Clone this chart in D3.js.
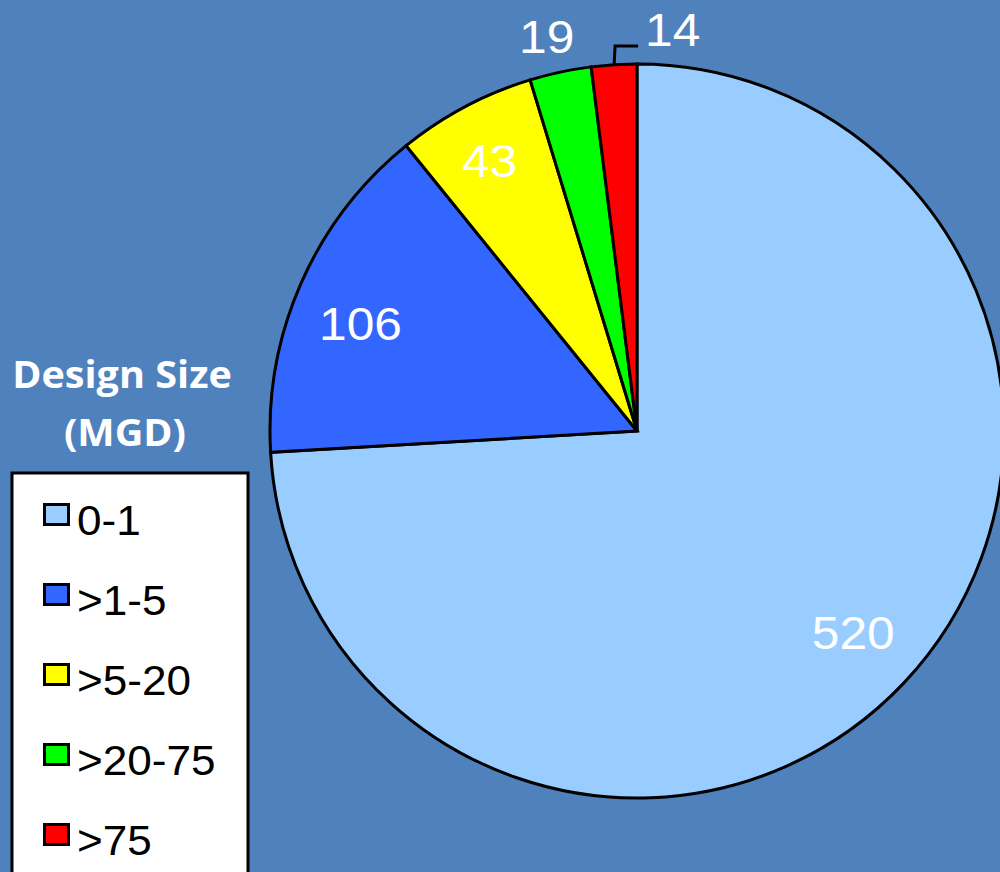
<!DOCTYPE html>
<html>
<head>
<meta charset="utf-8">
<script src="https://cdn.jsdelivr.net/npm/d3@7"></script>
<style>
  html, body { margin: 0; padding: 0; background: #4F81BD; }
  svg { display: block; }
</style>
</head>
<body>
<svg id="chart" width="1000" height="872"></svg>
<script>
// Plant counts by design size (million gallons per day)
const categories = ["0-1", ">1-5", ">5-20", ">20-75", ">75"];
const counts = [520, 106, 43, 19, 14];
const colors = ["#99CCFF", "#3366FF", "#FFFF00", "#00FF00", "#FF0000"];
const legendTitle = ["Design Size", "(MGD)"];

const svg = d3.select("#chart");
const W = 1000, H = 872;
const SX = 1.08; // slight horizontal widening of the type

svg.append("rect").attr("width", W).attr("height", H).attr("fill", "#4F81BD");

const cx = 637, cy = 431, R = 367;

const data = categories.map((c, i) => ({ cat: c, value: counts[i], color: colors[i] }));

const pie = d3.pie().value(d => d.value).sort(null);
const arcs = pie(data);
const arc = d3.arc().innerRadius(0).outerRadius(R);

const g = svg.append("g").attr("transform", `translate(${cx},${cy})`);

g.selectAll("path.slice")
  .data(arcs)
  .join("path")
  .attr("class", "slice")
  .attr("d", arc)
  .attr("fill", d => d.data.color)
  .attr("stroke", "#000")
  .attr("stroke-width", 3)
  .attr("stroke-linejoin", "miter");

// Value labels: radial distance as a fraction of the radius (small slices sit outside),
// plus a small pixel nudge
const labelRadius = [0.81, 0.806, 0.84, 1.10, null];
const labelNudge = [[0, -2], [-6, 13], [-3, 2], [-6, 1], [0, 0]];

arcs.forEach((a, i) => {
  if (labelRadius[i] == null) return;
  const mid = (a.startAngle + a.endAngle) / 2;
  const r = R * labelRadius[i];
  const x = Math.sin(mid) * r + labelNudge[i][0];
  const y = -Math.cos(mid) * r + labelNudge[i][1];
  g.append("text")
    .attr("transform", `translate(${x},${y}) scale(${SX},1)`)
    .attr("text-anchor", "middle")
    .attr("dominant-baseline", "central")
    .attr("font-family", "Liberation Sans, Arial, sans-serif")
    .attr("font-size", 46)
    .attr("fill", "#fff")
    .text(a.data.value);
});

// Leader line and label for the smallest slice
{
  const a = arcs[4];
  const mid = (a.startAngle + a.endAngle) / 2;
  const x0 = Math.sin(mid) * (R - 1), y0 = -Math.cos(mid) * (R - 1);
  const y1 = -R - 18;
  const x2 = x0 + 24;
  g.append("path")
    .attr("d", `M${x0},${y0}L${x0 + 1},${y1}L${x2},${y1}`)
    .attr("fill", "none")
    .attr("stroke", "#000")
    .attr("stroke-width", 3);
  g.append("text")
    .attr("transform", `translate(${x2 + 7},${y1 - 16}) scale(${SX},1)`)
    .attr("text-anchor", "start")
    .attr("dominant-baseline", "central")
    .attr("font-family", "Liberation Sans, Arial, sans-serif")
    .attr("font-size", 46)
    .attr("fill", "#fff")
    .text(a.data.value);
}

// Legend title
const titleY = [388, 446];
legendTitle.forEach((t, i) => {
  svg.append("text")
    .attr("transform", `translate(${i ? 125 : 122},${titleY[i]}) scale(1.07,1)`)
    .attr("text-anchor", "middle")
    .attr("font-family", "Open Sans, Lato, sans-serif")
    .attr("font-weight", "bold")
    .attr("font-size", 37)
    .attr("fill", "#fff")
    .text(t);
});

// Legend box
svg.append("rect")
  .attr("x", 12).attr("y", 473)
  .attr("width", 236).attr("height", 420)
  .attr("fill", "#fff")
  .attr("stroke", "#000")
  .attr("stroke-width", 3);

const legendY = d3.scaleBand().domain(categories).range([475, 875]);

const item = svg.selectAll("g.item")
  .data(data)
  .join("g")
  .attr("class", "item")
  .attr("transform", d => `translate(0,${legendY(d.cat)})`);

item.append("rect")
  .attr("x", 44.5).attr("y", 29.5)
  .attr("width", 24).attr("height", 20)
  .attr("fill", d => d.color)
  .attr("stroke", "#000")
  .attr("stroke-width", 3);

item.append("text")
  .attr("transform", `translate(77,60) scale(1.05,1)`)
  .attr("font-family", "Liberation Sans, Arial, sans-serif")
  .attr("font-size", 42)
  .attr("fill", "#000")
  .text(d => d.cat);
</script>
</body>
</html>
